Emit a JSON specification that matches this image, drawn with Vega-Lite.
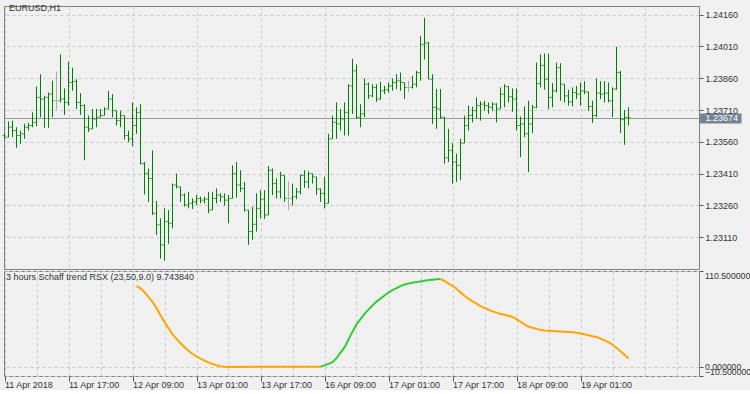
{
"$schema":"https://vega.github.io/schema/vega-lite/v6.json",
"background":"#F0F0F0",
"padding":{"left":2,"top":3,"right":0,"bottom":0},
"autosize":{"type":"pad"},
"spacing":2,
"bounds":"flush",
"config":{
"view":{"stroke":"#808080","fill":"#F0F0F0","strokeWidth":1},
"axis":{"labelFont":"Liberation Sans","labelFontSize":9,"labelColor":"#333333","gridColor":"#C8C8C8","gridDash":[3,3],"tickColor":"#555555","domain":false,"title":null,"labelOverlap":false},
"title":{"font":"Liberation Sans","fontSize":9,"fontWeight":"normal","color":"#333333"}
},
"datasets":{
"bars":[
{"i":0,"o":1.2359,"h":1.23598,"l":1.23574,"c":1.23582},
{"i":1,"o":1.23582,"h":1.23656,"l":1.23582,"c":1.23629},
{"i":2,"o":1.23629,"h":1.2366,"l":1.23582,"c":1.23613},
{"i":3,"o":1.23613,"h":1.23629,"l":1.23532,"c":1.2359},
{"i":4,"o":1.2359,"h":1.23613,"l":1.23551,"c":1.23598},
{"i":5,"o":1.23598,"h":1.23645,"l":1.23574,"c":1.23629},
{"i":6,"o":1.23629,"h":1.23649,"l":1.23613,"c":1.23637},
{"i":7,"o":1.23637,"h":1.23699,"l":1.23629,"c":1.23652},
{"i":8,"o":1.23652,"h":1.23821,"l":1.23634,"c":1.2377},
{"i":9,"o":1.2377,"h":1.23879,"l":1.23676,"c":1.23762},
{"i":10,"o":1.23762,"h":1.23777,"l":1.23626,"c":1.2377},
{"i":11,"o":1.2377,"h":1.23793,"l":1.23626,"c":1.23785},
{"i":12,"o":1.23785,"h":1.23848,"l":1.23676,"c":1.23754},
{"i":13,"o":1.23754,"h":1.23892,"l":1.23712,"c":1.23754},
{"i":14,"o":1.23754,"h":1.23973,"l":1.23746,"c":1.23762},
{"i":15,"o":1.23762,"h":1.23812,"l":1.23687,"c":1.23746},
{"i":16,"o":1.23746,"h":1.23937,"l":1.23731,"c":1.2384},
{"i":17,"o":1.2384,"h":1.2391,"l":1.23801,"c":1.23845},
{"i":18,"o":1.23845,"h":1.23856,"l":1.23715,"c":1.23746},
{"i":19,"o":1.23746,"h":1.2379,"l":1.23687,"c":1.23731},
{"i":20,"o":1.23731,"h":1.23737,"l":1.23473,"c":1.23629},
{"i":21,"o":1.23629,"h":1.23684,"l":1.23606,"c":1.23621},
{"i":22,"o":1.23621,"h":1.23715,"l":1.23621,"c":1.23668},
{"i":23,"o":1.23668,"h":1.23715,"l":1.23629,"c":1.23676},
{"i":24,"o":1.23676,"h":1.23715,"l":1.23676,"c":1.23684},
{"i":25,"o":1.23684,"h":1.23723,"l":1.23684,"c":1.23715},
{"i":26,"o":1.23715,"h":1.23801,"l":1.23715,"c":1.23762},
{"i":27,"o":1.23762,"h":1.23785,"l":1.23676,"c":1.23707},
{"i":28,"o":1.23707,"h":1.23707,"l":1.23637,"c":1.2366},
{"i":29,"o":1.2366,"h":1.23707,"l":1.23629,"c":1.23684},
{"i":30,"o":1.23684,"h":1.23684,"l":1.23571,"c":1.2359},
{"i":31,"o":1.2359,"h":1.23613,"l":1.23559,"c":1.23574},
{"i":32,"o":1.23574,"h":1.23746,"l":1.2354,"c":1.23637},
{"i":33,"o":1.23637,"h":1.23723,"l":1.23598,"c":1.23699},
{"i":34,"o":1.23699,"h":1.23738,"l":1.23454,"c":1.23457},
{"i":35,"o":1.23457,"h":1.23465,"l":1.23312,"c":1.2341},
{"i":36,"o":1.2341,"h":1.23434,"l":1.23277,"c":1.23387},
{"i":37,"o":1.23387,"h":1.2352,"l":1.23215,"c":1.23223},
{"i":38,"o":1.23223,"h":1.23281,"l":1.23121,"c":1.23168},
{"i":39,"o":1.23168,"h":1.23199,"l":1.23009,"c":1.23074},
{"i":40,"o":1.23074,"h":1.23246,"l":1.22999,"c":1.23184},
{"i":41,"o":1.23184,"h":1.23238,"l":1.23079,"c":1.23176},
{"i":42,"o":1.23176,"h":1.23363,"l":1.23152,"c":1.23356},
{"i":43,"o":1.23356,"h":1.2341,"l":1.2334,"c":1.23348},
{"i":44,"o":1.23348,"h":1.23348,"l":1.23277,"c":1.23309},
{"i":45,"o":1.23309,"h":1.23317,"l":1.23254,"c":1.23262},
{"i":46,"o":1.23262,"h":1.23324,"l":1.23246,"c":1.2327},
{"i":47,"o":1.2327,"h":1.23293,"l":1.23243,"c":1.23277},
{"i":48,"o":1.23277,"h":1.23309,"l":1.23262,"c":1.23293},
{"i":49,"o":1.23293,"h":1.23301,"l":1.2327,"c":1.23285},
{"i":50,"o":1.23285,"h":1.23301,"l":1.2327,"c":1.2329},
{"i":51,"o":1.2329,"h":1.23324,"l":1.23223,"c":1.23238},
{"i":52,"o":1.23238,"h":1.23324,"l":1.23238,"c":1.23293},
{"i":53,"o":1.23293,"h":1.2334,"l":1.2327,"c":1.23309},
{"i":54,"o":1.23309,"h":1.23317,"l":1.23277,"c":1.23301},
{"i":55,"o":1.23301,"h":1.23317,"l":1.23259,"c":1.23285},
{"i":56,"o":1.23285,"h":1.23309,"l":1.23176,"c":1.23293},
{"i":57,"o":1.23293,"h":1.23449,"l":1.23293,"c":1.2341},
{"i":58,"o":1.2341,"h":1.23465,"l":1.23296,"c":1.23356},
{"i":59,"o":1.23356,"h":1.23426,"l":1.23324,"c":1.2334},
{"i":60,"o":1.2334,"h":1.23371,"l":1.23231,"c":1.23238},
{"i":61,"o":1.23238,"h":1.23238,"l":1.23074,"c":1.23137},
{"i":62,"o":1.23137,"h":1.23254,"l":1.23098,"c":1.23171},
{"i":63,"o":1.23171,"h":1.23317,"l":1.23137,"c":1.23246},
{"i":64,"o":1.23246,"h":1.23332,"l":1.23199,"c":1.2329},
{"i":65,"o":1.2329,"h":1.23332,"l":1.23196,"c":1.23215},
{"i":66,"o":1.23215,"h":1.23446,"l":1.23215,"c":1.23426},
{"i":67,"o":1.23426,"h":1.23434,"l":1.23309,"c":1.23363},
{"i":68,"o":1.23363,"h":1.23387,"l":1.23293,"c":1.23324},
{"i":69,"o":1.23324,"h":1.23418,"l":1.23293,"c":1.23402},
{"i":70,"o":1.23402,"h":1.23402,"l":1.23277,"c":1.23293},
{"i":71,"o":1.23293,"h":1.23374,"l":1.23238,"c":1.23293},
{"i":72,"o":1.23293,"h":1.23363,"l":1.23259,"c":1.23301},
{"i":73,"o":1.23301,"h":1.23343,"l":1.2329,"c":1.23324},
{"i":74,"o":1.23324,"h":1.23406,"l":1.23312,"c":1.23402},
{"i":75,"o":1.23402,"h":1.23426,"l":1.23343,"c":1.23371},
{"i":76,"o":1.23371,"h":1.23421,"l":1.2334,"c":1.2341},
{"i":77,"o":1.2341,"h":1.2341,"l":1.23363,"c":1.23395},
{"i":78,"o":1.23395,"h":1.23395,"l":1.23309,"c":1.23337},
{"i":79,"o":1.23337,"h":1.2334,"l":1.23277,"c":1.23317},
{"i":80,"o":1.23317,"h":1.23395,"l":1.23246,"c":1.2327},
{"i":81,"o":1.2327,"h":1.23598,"l":1.2327,"c":1.23574},
{"i":82,"o":1.23574,"h":1.23684,"l":1.23574,"c":1.23652},
{"i":83,"o":1.23652,"h":1.23746,"l":1.23574,"c":1.23645},
{"i":84,"o":1.23645,"h":1.23715,"l":1.23613,"c":1.23668},
{"i":85,"o":1.23668,"h":1.23746,"l":1.2359,"c":1.23699},
{"i":86,"o":1.23699,"h":1.23832,"l":1.2359,"c":1.23824},
{"i":87,"o":1.23824,"h":1.23952,"l":1.23692,"c":1.23895},
{"i":88,"o":1.23895,"h":1.23926,"l":1.23668,"c":1.23676},
{"i":89,"o":1.23676,"h":1.23738,"l":1.23629,"c":1.23692},
{"i":90,"o":1.23692,"h":1.23859,"l":1.23676,"c":1.23832},
{"i":91,"o":1.23832,"h":1.2384,"l":1.23762,"c":1.23777},
{"i":92,"o":1.23777,"h":1.23832,"l":1.2377,"c":1.23817},
{"i":93,"o":1.23817,"h":1.23832,"l":1.23749,"c":1.23762},
{"i":94,"o":1.23762,"h":1.23843,"l":1.23759,"c":1.23801},
{"i":95,"o":1.23801,"h":1.23824,"l":1.23785,"c":1.23806},
{"i":96,"o":1.23806,"h":1.2384,"l":1.23793,"c":1.23824},
{"i":97,"o":1.23824,"h":1.23859,"l":1.23801,"c":1.2384},
{"i":98,"o":1.2384,"h":1.23879,"l":1.23809,"c":1.23848},
{"i":99,"o":1.23848,"h":1.23887,"l":1.23801,"c":1.2384},
{"i":100,"o":1.2384,"h":1.2384,"l":1.23762,"c":1.23817},
{"i":101,"o":1.23817,"h":1.23848,"l":1.23793,"c":1.23817},
{"i":102,"o":1.23817,"h":1.23871,"l":1.23812,"c":1.23832},
{"i":103,"o":1.23832,"h":1.23895,"l":1.23817,"c":1.23887},
{"i":104,"o":1.23887,"h":1.24059,"l":1.23848,"c":1.2402},
{"i":105,"o":1.2402,"h":1.24145,"l":1.23949,"c":1.24027},
{"i":106,"o":1.24027,"h":1.24031,"l":1.23856,"c":1.23856},
{"i":107,"o":1.23856,"h":1.23879,"l":1.23645,"c":1.23723},
{"i":108,"o":1.23723,"h":1.23809,"l":1.23621,"c":1.23715},
{"i":109,"o":1.23715,"h":1.23809,"l":1.23668,"c":1.23676},
{"i":110,"o":1.23676,"h":1.23676,"l":1.23457,"c":1.23485},
{"i":111,"o":1.23485,"h":1.23621,"l":1.23465,"c":1.2352},
{"i":112,"o":1.2352,"h":1.23554,"l":1.23363,"c":1.23465},
{"i":113,"o":1.23465,"h":1.23504,"l":1.23371,"c":1.23449},
{"i":114,"o":1.23449,"h":1.23574,"l":1.23379,"c":1.23554},
{"i":115,"o":1.23554,"h":1.23684,"l":1.23554,"c":1.23637},
{"i":116,"o":1.23637,"h":1.23731,"l":1.23613,"c":1.23684},
{"i":117,"o":1.23684,"h":1.23726,"l":1.23652,"c":1.23707},
{"i":118,"o":1.23707,"h":1.2377,"l":1.23668,"c":1.23731},
{"i":119,"o":1.23731,"h":1.23751,"l":1.2366,"c":1.23738},
{"i":120,"o":1.23738,"h":1.23754,"l":1.23707,"c":1.23731},
{"i":121,"o":1.23731,"h":1.23746,"l":1.23692,"c":1.23723},
{"i":122,"o":1.23723,"h":1.23746,"l":1.23707,"c":1.23738},
{"i":123,"o":1.23738,"h":1.23742,"l":1.23652,"c":1.23715},
{"i":124,"o":1.23715,"h":1.23817,"l":1.23715,"c":1.23785},
{"i":125,"o":1.23785,"h":1.23832,"l":1.23723,"c":1.23821},
{"i":126,"o":1.23821,"h":1.23824,"l":1.23746,"c":1.23773},
{"i":127,"o":1.23773,"h":1.23812,"l":1.23702,"c":1.23762},
{"i":128,"o":1.23762,"h":1.23812,"l":1.23613,"c":1.23637},
{"i":129,"o":1.23637,"h":1.23679,"l":1.23488,"c":1.23645},
{"i":130,"o":1.23645,"h":1.23727,"l":1.23582,"c":1.23598},
{"i":131,"o":1.23598,"h":1.23754,"l":1.23418,"c":1.23645},
{"i":132,"o":1.23645,"h":1.23734,"l":1.23602,"c":1.23723},
{"i":133,"o":1.23723,"h":1.23934,"l":1.23718,"c":1.23835},
{"i":134,"o":1.23835,"h":1.23973,"l":1.23817,"c":1.23921},
{"i":135,"o":1.23921,"h":1.23977,"l":1.23806,"c":1.23856},
{"i":136,"o":1.23856,"h":1.23977,"l":1.23715,"c":1.2377},
{"i":137,"o":1.2377,"h":1.23837,"l":1.23723,"c":1.23801},
{"i":138,"o":1.23801,"h":1.23934,"l":1.23793,"c":1.2391},
{"i":139,"o":1.2391,"h":1.23931,"l":1.23754,"c":1.23832},
{"i":140,"o":1.23832,"h":1.23832,"l":1.23746,"c":1.23777},
{"i":141,"o":1.23777,"h":1.23806,"l":1.23731,"c":1.23749},
{"i":142,"o":1.23749,"h":1.23817,"l":1.23727,"c":1.23793},
{"i":143,"o":1.23793,"h":1.23824,"l":1.23762,"c":1.23785},
{"i":144,"o":1.23785,"h":1.2384,"l":1.23731,"c":1.23801},
{"i":145,"o":1.23801,"h":1.23846,"l":1.23785,"c":1.23796},
{"i":146,"o":1.23796,"h":1.23796,"l":1.23707,"c":1.23727},
{"i":147,"o":1.23727,"h":1.23754,"l":1.23649,"c":1.23684},
{"i":148,"o":1.23684,"h":1.23859,"l":1.23676,"c":1.2379},
{"i":149,"o":1.2379,"h":1.23846,"l":1.23762,"c":1.23785},
{"i":150,"o":1.23785,"h":1.23846,"l":1.23746,"c":1.2379},
{"i":151,"o":1.2379,"h":1.2384,"l":1.23746,"c":1.23754},
{"i":152,"o":1.23754,"h":1.23817,"l":1.23676,"c":1.23809},
{"i":153,"o":1.23809,"h":1.24009,"l":1.23806,"c":1.23887},
{"i":154,"o":1.23887,"h":1.23895,"l":1.23602,"c":1.23665},
{"i":155,"o":1.23665,"h":1.2371,"l":1.23546,"c":1.23676},
{"i":156,"o":1.23676,"h":1.23723,"l":1.23637,"c":1.23674}
],
"ind":[
{"i":33,"v":93.0,"t":"down","s":1},{"i":34,"v":90.6,"t":"down","s":1},{"i":35,"v":86.0,"t":"down","s":1},{"i":36,"v":80.8,"t":"down","s":1},{"i":37,"v":75.0,"t":"down","s":1},{"i":38,"v":67.9,"t":"down","s":1},{"i":39,"v":59.5,"t":"down","s":1},{"i":40,"v":51.8,"t":"down","s":1},{"i":41,"v":44.7,"t":"down","s":1},{"i":42,"v":37.8,"t":"down","s":1},{"i":43,"v":32.3,"t":"down","s":1},{"i":44,"v":27.2,"t":"down","s":1},{"i":45,"v":22.6,"t":"down","s":1},{"i":46,"v":18.5,"t":"down","s":1},{"i":47,"v":15.1,"t":"down","s":1},{"i":48,"v":12.0,"t":"down","s":1},{"i":49,"v":9.5,"t":"down","s":1},{"i":50,"v":7.2,"t":"down","s":1},{"i":51,"v":5.2,"t":"down","s":1},{"i":52,"v":3.4,"t":"down","s":1},{"i":53,"v":1.8,"t":"down","s":1},{"i":54,"v":0.6,"t":"down","s":1},{"i":55,"v":0.2,"t":"down","s":1},{"i":56,"v":0.0,"t":"down","s":1},{"i":79,"v":0.3,"t":"down","s":1},
{"i":79,"v":0.3,"t":"up","s":2},{"i":80,"v":1.8,"t":"up","s":2},{"i":81,"v":3.5,"t":"up","s":2},{"i":82,"v":5.5,"t":"up","s":2},{"i":83,"v":10.0,"t":"up","s":2},{"i":84,"v":16.5,"t":"up","s":2},{"i":85,"v":22.4,"t":"up","s":2},{"i":86,"v":31.5,"t":"up","s":2},{"i":87,"v":40.6,"t":"up","s":2},{"i":88,"v":49.0,"t":"up","s":2},{"i":89,"v":55.0,"t":"up","s":2},{"i":90,"v":61.2,"t":"up","s":2},{"i":91,"v":66.0,"t":"up","s":2},{"i":92,"v":70.7,"t":"up","s":2},{"i":93,"v":75.2,"t":"up","s":2},{"i":94,"v":78.7,"t":"up","s":2},{"i":95,"v":82.2,"t":"up","s":2},{"i":96,"v":85.7,"t":"up","s":2},{"i":97,"v":88.5,"t":"up","s":2},{"i":98,"v":90.7,"t":"up","s":2},{"i":99,"v":93.0,"t":"up","s":2},{"i":100,"v":95.0,"t":"up","s":2},{"i":101,"v":96.0,"t":"up","s":2},{"i":102,"v":97.0,"t":"up","s":2},{"i":103,"v":97.8,"t":"up","s":2},{"i":104,"v":98.5,"t":"up","s":2},{"i":105,"v":99.3,"t":"up","s":2},{"i":106,"v":100.0,"t":"up","s":2},{"i":107,"v":100.5,"t":"up","s":2},{"i":108,"v":101.0,"t":"up","s":2},{"i":109,"v":101.3,"t":"up","s":2},
{"i":109,"v":101.3,"t":"down","s":3},{"i":110,"v":99.0,"t":"down","s":3},{"i":111,"v":96.0,"t":"down","s":3},{"i":112,"v":93.5,"t":"down","s":3},{"i":113,"v":90.0,"t":"down","s":3},{"i":114,"v":86.0,"t":"down","s":3},{"i":115,"v":82.0,"t":"down","s":3},{"i":116,"v":78.5,"t":"down","s":3},{"i":117,"v":75.5,"t":"down","s":3},{"i":118,"v":73.0,"t":"down","s":3},{"i":119,"v":70.0,"t":"down","s":3},{"i":120,"v":68.0,"t":"down","s":3},{"i":121,"v":66.0,"t":"down","s":3},{"i":122,"v":64.0,"t":"down","s":3},{"i":123,"v":62.5,"t":"down","s":3},{"i":124,"v":61.0,"t":"down","s":3},{"i":125,"v":60.0,"t":"down","s":3},{"i":126,"v":59.0,"t":"down","s":3},{"i":127,"v":57.5,"t":"down","s":3},{"i":128,"v":55.0,"t":"down","s":3},{"i":129,"v":52.0,"t":"down","s":3},{"i":130,"v":49.0,"t":"down","s":3},{"i":131,"v":46.5,"t":"down","s":3},{"i":132,"v":45.0,"t":"down","s":3},{"i":133,"v":43.8,"t":"down","s":3},{"i":134,"v":42.8,"t":"down","s":3},{"i":135,"v":42.0,"t":"down","s":3},{"i":136,"v":41.6,"t":"down","s":3},{"i":137,"v":41.3,"t":"down","s":3},{"i":138,"v":41.0,"t":"down","s":3},{"i":139,"v":40.8,"t":"down","s":3},{"i":140,"v":40.5,"t":"down","s":3},{"i":141,"v":40.2,"t":"down","s":3},{"i":142,"v":40.0,"t":"down","s":3},{"i":143,"v":39.3,"t":"down","s":3},{"i":144,"v":38.5,"t":"down","s":3},{"i":145,"v":37.5,"t":"down","s":3},{"i":146,"v":36.5,"t":"down","s":3},{"i":147,"v":35.3,"t":"down","s":3},{"i":148,"v":34.4,"t":"down","s":3},{"i":149,"v":32.5,"t":"down","s":3},{"i":150,"v":30.5,"t":"down","s":3},{"i":151,"v":28.5,"t":"down","s":3},{"i":152,"v":25.5,"t":"down","s":3},{"i":153,"v":22.0,"t":"down","s":3},{"i":154,"v":18.0,"t":"down","s":3},{"i":155,"v":14.0,"t":"down","s":3},{"i":156,"v":9.74384,"t":"down","s":3}
]
},
"vconcat":[
{
"width":695,"height":263,
"title":{"text":"EURUSD,H1","anchor":"start","frame":"group","offset":-14,"baseline":"alphabetic","dx":5},
"data":{"name":"bars"},
"layer":[
{"mark":{"type":"rule","strokeWidth":1},
"encoding":{
"x":{"field":"i","type":"quantitative","scale":{"domain":[-0.125,173.625],"nice":false,"zero":false},
"axis":{"values":[0,8,16,24,32,40,48,56,64,72,80,88,96,104,112,120,128,136,144,152,160,168],"grid":true,"ticks":false,"labels":false,"domain":false}},
"y":{"field":"l","type":"quantitative","scale":{"domain":[1.2296,1.24201],"nice":false,"zero":false},
"axis":{"orient":"right","values":[1.2311,1.2326,1.2341,1.2356,1.2371,1.2386,1.2401,1.2416,1.23674],"format":".5f","grid":true,"labelOverlap":false,
"tickSize":{"condition":{"test":"abs(datum.value-1.23674)<0.000001","value":42},"value":4},
"tickWidth":{"condition":{"test":"abs(datum.value-1.23674)<0.000001","value":10},"value":1},
"tickColor":{"condition":{"test":"abs(datum.value-1.23674)<0.000001","value":"#738394"},"value":"#555555"},
"labelColor":{"condition":{"test":"abs(datum.value-1.23674)<0.000001","value":"#FFFFFF"},"value":"#333333"},
"labelPadding":{"condition":{"test":"abs(datum.value-1.23674)<0.000001","value":-36},"value":2},
"gridColor":{"condition":{"test":"abs(datum.value-1.23674)<0.000001","value":"#7C7C7C"},"value":"#C8C8C8"},
"gridDash":{"condition":{"test":"abs(datum.value-1.23674)<0.000001","value":[1,0]},"value":[3,3]}}},
"y2":{"field":"h"},
"color":{"condition":{"test":"datum.o == datum.c","value":"#ABABAB"},"value":"#008000"}}},
{"mark":{"type":"tick","orient":"horizontal","size":2,"thickness":1,"xOffset":-1},
"encoding":{"x":{"field":"i","type":"quantitative"},
"y":{"field":"o","type":"quantitative",
"axis":{"orient":"right","values":[1.2311,1.2326,1.2341,1.2356,1.2371,1.2386,1.2401,1.2416,1.23674],"format":".5f","grid":true,"labelOverlap":false,
"tickSize":{"condition":{"test":"abs(datum.value-1.23674)<0.000001","value":42},"value":4},
"tickWidth":{"condition":{"test":"abs(datum.value-1.23674)<0.000001","value":10},"value":1},
"tickColor":{"condition":{"test":"abs(datum.value-1.23674)<0.000001","value":"#738394"},"value":"#555555"},
"labelColor":{"condition":{"test":"abs(datum.value-1.23674)<0.000001","value":"#FFFFFF"},"value":"#333333"},
"labelPadding":{"condition":{"test":"abs(datum.value-1.23674)<0.000001","value":-36},"value":2},
"gridColor":{"condition":{"test":"abs(datum.value-1.23674)<0.000001","value":"#7C7C7C"},"value":"#C8C8C8"},
"gridDash":{"condition":{"test":"abs(datum.value-1.23674)<0.000001","value":[1,0]},"value":[3,3]}}},
"color":{"condition":{"test":"datum.o == datum.c","value":"#ABABAB"},"value":"#008000"}}},
{"mark":{"type":"tick","orient":"horizontal","size":2,"thickness":1,"xOffset":1},
"encoding":{"x":{"field":"i","type":"quantitative"},
"y":{"field":"c","type":"quantitative",
"axis":{"orient":"right","values":[1.2311,1.2326,1.2341,1.2356,1.2371,1.2386,1.2401,1.2416,1.23674],"format":".5f","grid":true,"labelOverlap":false,
"tickSize":{"condition":{"test":"abs(datum.value-1.23674)<0.000001","value":42},"value":4},
"tickWidth":{"condition":{"test":"abs(datum.value-1.23674)<0.000001","value":10},"value":1},
"tickColor":{"condition":{"test":"abs(datum.value-1.23674)<0.000001","value":"#738394"},"value":"#555555"},
"labelColor":{"condition":{"test":"abs(datum.value-1.23674)<0.000001","value":"#FFFFFF"},"value":"#333333"},
"labelPadding":{"condition":{"test":"abs(datum.value-1.23674)<0.000001","value":-36},"value":2},
"gridColor":{"condition":{"test":"abs(datum.value-1.23674)<0.000001","value":"#7C7C7C"},"value":"#C8C8C8"},
"gridDash":{"condition":{"test":"abs(datum.value-1.23674)<0.000001","value":[1,0]},"value":[3,3]}}},
"color":{"condition":{"test":"datum.o == datum.c","value":"#ABABAB"},"value":"#008000"}}}
]
},
{
"width":695,"height":105,
"title":{"text":"3 hours Schaff trend RSX (23,50,9.0) 9.743840","anchor":"start","frame":"group","offset":-18,"baseline":"alphabetic","dx":2},
"data":{"name":"ind"},
"mark":{"type":"line","strokeWidth":2},
"encoding":{
"x":{"field":"i","type":"quantitative","scale":{"domain":[-0.125,173.625],"nice":false,"zero":false},
"axis":{"values":[0,8,16,24,32,40,48,56,64,72,80,88,96,104,112,120,128,136,144,152,160,168],"grid":true,"domain":false,
"labelExpr":"['11 Apr 2018','','11 Apr 17:00','','12 Apr 09:00','','13 Apr 01:00','','13 Apr 17:00','','16 Apr 09:00','','17 Apr 01:00','','17 Apr 17:00','','18 Apr 09:00','','19 Apr 01:00','','',''][datum.value/8]",
"labelAlign":"left","labelBaseline":"alphabetic","tickSize":5,"labelPadding":6.5,"labelFlush":false,"labelOverlap":false,
"tickOpacity":{"condition":{"test":"datum.value % 16 != 0 || datum.value > 144","value":0},"value":1}}},
"y":{"field":"v","type":"quantitative","scale":{"domain":[-10.5,110.5],"nice":false,"zero":false},
"axis":{"orient":"right","values":[-10.5,0,110.5],"format":".6f","labelFlush":true,"labelOverlap":false,"labelFontSize":8.7,"tickSize":4,"labelPadding":1.5,"grid":true}},
"color":{"field":"t","type":"nominal","scale":{"domain":["down","up"],"range":["#FFA500","#32CD32"]},"legend":null},
"detail":{"field":"s","type":"nominal"}}
}
]
}
